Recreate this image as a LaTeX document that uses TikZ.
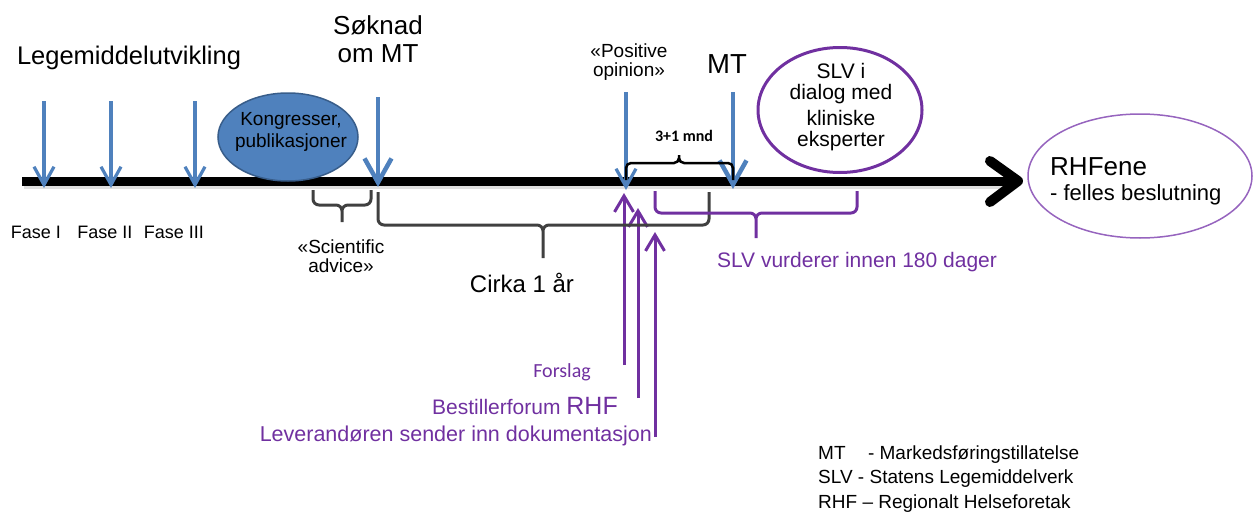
\documentclass[tikz,border=0pt]{standalone}
\usepackage{fontspec}
\setmainfont{Liberation Sans}
\newfontfamily\carl{Carlito}
\usetikzlibrary{arrows.meta,shapes.geometric}
\definecolor{tlblue}{RGB}{79,129,189}
\definecolor{tlblueedge}{RGB}{56,93,138}
\definecolor{tlpurple}{RGB}{112,48,160}
\definecolor{tllilac}{RGB}{150,100,190}
\definecolor{tlgray}{RGB}{64,64,64}
% brace: [style]{x1}{x2}{y ends}{y bar}{x tip}{y tip}
\newcommand{\tlbrace}[7][]{\draw[#1] (#2,#4) -- (#2,#5) -- (#6,#5) -- (#6,#7) (#3,#4) -- (#3,#5) -- (#6,#5) -- (#6,#7);}
\newcommand{\fs}[1]{\fontsize{#1}{#1}\selectfont}
\begin{document}
\begin{tikzpicture}[x=1pt,y=-1pt,
  phasearrow/.style={tlblue, line width=3.2, -{Straight Barb[length=18pt,width=20pt]}},
  keyarrow/.style={tlblue, line width=4.5, -{Straight Barb[length=24pt,width=27pt]}},
  uparrow/.style={tlpurple, line width=3, -{Straight Barb[length=16pt,width=19pt]}},
  bracegray/.style={tlgray, line width=3, rounded corners=6},
  braceblack/.style={black, line width=2.5, rounded corners=5},
  bracepurple/.style={tlpurple, line width=3, rounded corners=6},
  lbl/.style={inner sep=0, align=center},
]
\useasboundingbox (0,0) rectangle (1254,514);

% timeline with a soft shadow and an open arrowhead
\coordinate (tlstart) at (22,181);
\coordinate (tlend) at (1018,181);
\coordinate (hdtop) at (990,161);
\coordinate (hdbot) at (990,202);
\draw[black!12, line width=9] ([shift={(2,3)}]tlstart) -- ([shift={(-4,3)}]tlend);
\draw[line width=9] (tlstart) -- (tlend);
\draw[line width=10, line cap=round, line join=round] (hdtop) -- (tlend) -- (hdbot);

% ellipses
\node[ellipse, draw=tlblueedge, fill=tlblue, line width=1.5, minimum width=140, minimum height=88, inner sep=0] (kong) at (288,137) {};
\node[lbl] at (291,132) {\fs{19}Kongresser,\\[3pt]\fs{19}publikasjoner};
\node[ellipse, draw=tlpurple, line width=3, minimum width=164, minimum height=125, inner sep=0] (slv) at (840,110) {};
\node[lbl] at (841,107) {\fs{21}SLV i\\[5pt]\fs{21}dialog med\\[5pt]\fs{21}kliniske\\[5pt]\fs{21}eksperter};
\node[ellipse, draw=tllilac, line width=1.5, minimum width=224, minimum height=124, inner sep=0] (rhf) at (1140,176) {};
\node[anchor=west, inner sep=0] (rhfa) at (1050,167) {\fs{26}RHFene};
\node[anchor=west, inner sep=0] (rhfb) at (1050,195) {\fs{22}- felles beslutning};

% phase arrows
\foreach \n/\x in {f1/44, f2/111, f3/195}{
  \coordinate (\n top) at (\x,101);
  \coordinate (\n bot) at (\x,188);
  \draw[phasearrow] (\n top) -- (\n bot);
}
\coordinate (soktop) at (378,97);
\coordinate (sokbot) at (378,187);
\draw[keyarrow] (soktop) -- (sokbot);
\coordinate (postop) at (626,92);
\coordinate (posbot) at (626,190);
\draw[phasearrow] (postop) -- (posbot);
\coordinate (mttop) at (733,92);
\coordinate (mtbot) at (733,189);
\draw[keyarrow] (mttop) -- (mtbot);

% purple arrows from below
\coordinate (u1b) at (624,365); \coordinate (u1t) at (624,193);
\coordinate (u2b) at (638,398); \coordinate (u2t) at (638,208);
\coordinate (u3b) at (655,437); \coordinate (u3t) at (655,232);
\draw[uparrow] (u1b) -- (u1t);
\draw[uparrow] (u2b) -- (u2t);
\draw[uparrow] (u3b) -- (u3t);

% braces
\tlbrace[bracegray]{313}{371}{190}{205}{342}{222}
\tlbrace[bracegray]{378}{709}{192}{225}{543}{258}
\tlbrace[braceblack]{626}{733}{180}{163}{679}{155}
\tlbrace[bracepurple]{655}{857}{191}{213}{756}{238}

% upper labels
\node[lbl] (leg) at (129,58) {\fs{25.5}Legemiddelutvikling};
\node[lbl] (sok) at (378,39) {\fs{26}Søknad\\[9pt]\fs{26}om MT};
\node[lbl] (pos) at (629,62) {\fs{19}«Positive\\[4pt]\fs{19}opinion»};
\node[lbl] (mt) at (727,64) {\fs{27.5}MT};
\node[lbl] (mnd) at (684,136) {\carl\bfseries\fs{16}3+1 mnd};

% lower labels
\node[lbl] (fa1) at (36,232) {\fs{18}Fase I};
\node[lbl] (fa2) at (105,232) {\fs{18}Fase II};
\node[lbl] (fa3) at (174,232) {\fs{18}Fase III};
\node[lbl] (sci) at (341,256) {\fs{19}«Scientific\\[4pt]\fs{19}advice»};
\node[lbl] (cirka) at (522,283) {\fs{24}Cirka 1 år};
\node[lbl, text=tlpurple] (vurd) at (857,262) {\fs{21}SLV vurderer innen 180 dager};
\node[anchor=east, inner sep=0, text=tlpurple] (forslag) at (591,372) {\carl\fs{20}Forslag};
\node[anchor=east, inner sep=0, text=tlpurple] (best) at (618,406) {\fs{21}Bestillerforum \fs{25}RHF};
\node[anchor=east, inner sep=0, text=tlpurple] (lev) at (652,436) {\fs{21.5}Leverandøren sender inn dokumentasjon};

% legend
\node[anchor=west, inner sep=0] (lg1) at (818,455) {\fs{19}MT\hspace{0.9em} - Markedsføringstillatelse};
\node[anchor=west, inner sep=0] (lg2) at (818,479) {\fs{19}SLV - Statens Legemiddelverk};
\node[anchor=west, inner sep=0] (lg3) at (818,504) {\fs{19}RHF – Regionalt Helseforetak};
\end{tikzpicture}
\end{document}
